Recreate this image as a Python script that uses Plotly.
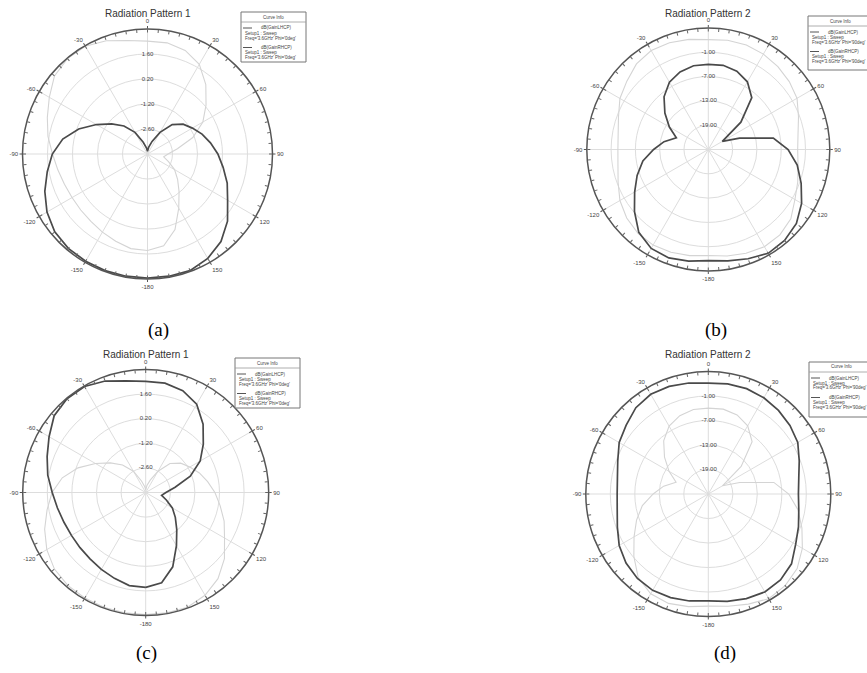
import plotly.graph_objects as go

W, H = 867, 673

# ---------------- data ----------------
theta_deg = list(range(-180, 181, 10))

# Phi = 0deg cut (Radiation Pattern 1), dB
phi0_lhcp = [2.95, 2.95, 2.95, 2.93, 2.9, 2.78, 2.5, 2.12, 1.7, 1.33, 0.82, 0.1, -0.7,
             -1.38, -1.95, -2.6, -3.3, -3.65, -3.85, -3.6, -3.25, -2.6, -1.85, -1.4,
             -1.1, -0.75, -0.42, -0.06, 0.3, 0.75, 1.18, 1.85, 2.4, 2.75, 2.95, 2.95, 2.95]
phi0_rhcp = [1.40, 1.38, 1.2, 1.05, 0.93, 0.88, 0.88, 0.95, 1.1, 1.32, 1.66, 1.97, 2.35,
             2.8, 2.97, 2.97, 2.75, 2.45, 2.32, 2.32, 2.17, 1.8, 1.08, 0.28, -0.42,
             -1.3, -2.3, -2.85, -3.08, -2.75, -2.25, -1.8, -1.25, -0.5, 0.5, 1.22, 1.40]

# Phi = 90deg cut (Radiation Pattern 2), dB
phi90_lhcp = [2.45, 3.0, 3.5, 3.2, 1.7, -1.2, -4.0, -6.3, -8.6, -11.5, -13.9, -16.6, -13.9,
              -11.0, -8.0, -5.8, -4.6, -4.0, -3.98, -3.9, -4.4, -5.7, -8.3, -14.5, -21.0,
              -16.8, -8.7, -5.3, -2.7, -0.6, 1.6, 3.4, 4.3, 4.6, 3.7, 2.9, 2.45]
phi90_rhcp = [1.16, 1.6, 2.0, 2.25, 2.0, 1.3, 0.2, -1.3, -2.35, -2.68, -2.4, -1.4, 0.2,
              1.25, 2.6, 3.2, 3.05, 2.6, 2.14, 2.4, 2.45, 2.2, 1.73, 1.1, 0.3,
              -1.3, -2.5, -2.93, -2.5, -1.5, -0.3, 1.6, 2.5, 2.7, 2.25, 1.7, 1.16]

# angular ticks (positions 0..330 deg, labelled in the -180..150 convention)
angle_tickvals = [0, 30, 60, 90, 120, 150, 180, 210, 240, 270, 300, 330]
angle_ticktext = ["0", "30", "60", "90", "120", "150", "-180", "-150", "-120", "-90", "-60", "-30"]

radial_range_1 = [-4.0, 3.0]
radial_ticks_1 = [-2.6, -1.2, 0.2, 1.6]
radial_range_2 = [-25.0, 5.0]
radial_ticks_2 = [-19.0, -13.0, -7.0, -1.0]

titles = ["Radiation Pattern 1", "Radiation Pattern 2", "Radiation Pattern 1", "Radiation Pattern 2"]
captions = ["(a)", "(b)", "(c)", "(d)"]
legend_names = ["dB(GainLHCP)", "dB(GainRHCP)"]
legend_setup = "Setup1 : Sweep"
legend_freq = ["Freq='3.6GHz' Phi='0deg'", "Freq='3.6GHz' Phi='90deg'"]

# ---------------- layout geometry (pixels) ----------------
panels = [
    dict(cx=147.5, cy=154.0, R=125.0, rng=radial_range_1, ticks=radial_ticks_1,
         dark=phi0_lhcp, light=phi0_rhcp, freq=0, box=(241, 12, 306, 62),
         title_y=13, cap=(158, 330)),
    dict(cx=708.3, cy=149.5, R=121.5, rng=radial_range_2, ticks=radial_ticks_2,
         dark=phi90_lhcp, light=phi90_rhcp, freq=1, box=(808, 16, 880, 70),
         title_y=13, cap=(716, 330)),
    dict(cx=145.7, cy=492.5, R=123.0, rng=radial_range_1, ticks=radial_ticks_1,
         dark=phi0_rhcp, light=phi0_lhcp, freq=0, box=(235, 358, 300, 408),
         title_y=354, cap=(146, 653)),
    dict(cx=708.3, cy=494.0, R=122.5, rng=radial_range_2, ticks=radial_ticks_2,
         dark=phi90_rhcp, light=phi90_lhcp, freq=1, box=(809, 362, 880, 417),
         title_y=354, cap=(725, 653)),
]

def px(x):
    return x / W

def py(y):
    return 1 - y / H

DARK = "#4a4a4a"
LIGHT = "#d4d4d4"
GRID = "#dddddd"
TXT = "#444444"
FONT = "Liberation Sans, Arial, sans-serif"

fig = go.Figure()
layout = {}
annotations = []
shapes = []
n = len(panels)

for i, p in enumerate(panels):
    main = f"polar{i + 1}"
    minor = f"polar{i + 1 + n}"
    major = f"polar{i + 1 + 2 * n}"
    dom = dict(x=[px(p["cx"] - p["R"]), px(p["cx"] + p["R"])],
               y=[py(p["cy"] + p["R"]), py(p["cy"] - p["R"])])
    # faint curve
    fig.add_trace(go.Scatterpolar(r=p["light"], theta=theta_deg, mode="lines",
                                  line=dict(color=LIGHT, width=1.1),
                                  subplot=main, showlegend=False, hoverinfo="skip"))
    # dark curve
    fig.add_trace(go.Scatterpolar(r=p["dark"], theta=theta_deg, mode="lines",
                                  line=dict(color=DARK, width=1.7),
                                  subplot=main, showlegend=False))
    # radial tick labels along the 0 deg spoke
    fig.add_trace(go.Scatterpolar(r=p["ticks"], theta=[0] * len(p["ticks"]), mode="text",
                                  text=[f"{v:.2f}" for v in p["ticks"]],
                                  textposition="middle center",
                                  textfont=dict(size=6, color=TXT, family=FONT),
                                  subplot=main, showlegend=False, hoverinfo="skip"))
    # overlay subplots for minor / major ticks
    for sp in (minor, major):
        fig.add_trace(go.Scatterpolar(r=[], theta=[], mode="lines", subplot=sp,
                                      showlegend=False, hoverinfo="skip"))

    layout[main] = dict(
        domain=dom, bgcolor="white",
        radialaxis=dict(range=p["rng"], tickvals=p["ticks"], showticklabels=False,
                        ticks="", showline=False, gridcolor=GRID, gridwidth=1),
        angularaxis=dict(rotation=90, direction="clockwise", tickmode="array",
                         tickvals=angle_tickvals, ticktext=angle_ticktext,
                         showgrid=True, gridcolor=GRID, gridwidth=1,
                         showline=True, linecolor="#555555", linewidth=1.5,
                         ticks="outside", ticklen=2.5, tickcolor="rgba(0,0,0,0)", tickwidth=1,
                         tickfont=dict(size=6, color=TXT, family=FONT)),
    )
    layout[minor] = dict(
        domain=dom, bgcolor="rgba(0,0,0,0)",
        radialaxis=dict(visible=False, range=p["rng"]),
        angularaxis=dict(rotation=90, direction="clockwise", tickmode="array",
                         tickvals=list(range(0, 360, 5)), showticklabels=False,
                         showgrid=False, showline=False, ticks="inside", ticklen=3,
                         tickcolor="#666666", tickwidth=1),
    )
    layout[major] = dict(
        domain=dom, bgcolor="rgba(0,0,0,0)",
        radialaxis=dict(visible=False, range=p["rng"]),
        angularaxis=dict(rotation=90, direction="clockwise", tickmode="array",
                         tickvals=angle_tickvals, showticklabels=False,
                         showgrid=False, showline=False, ticks="outside", ticklen=2.5,
                         tickcolor="#555555", tickwidth=1),
    )

    # title
    annotations.append(dict(x=px(p["cx"]), y=py(p["title_y"]), xref="paper", yref="paper",
                            text=titles[i], showarrow=False, xanchor="center", yanchor="middle",
                            font=dict(size=10, color="#333333", family=FONT)))
    # caption
    annotations.append(dict(x=px(p["cap"][0]), y=py(p["cap"][1]), xref="paper", yref="paper",
                            text=captions[i], showarrow=False, xanchor="center", yanchor="middle",
                            font=dict(size=19, color="black",
                                      family="Liberation Serif, Times New Roman, serif")))
    # "Curve Info" box
    x0, y0, x1, y1 = p["box"]
    shapes.append(dict(type="rect", xref="paper", yref="paper",
                       x0=px(x0), x1=px(x1), y0=py(y1), y1=py(y0),
                       line=dict(color="#777777", width=1), fillcolor="white"))
    shapes.append(dict(type="line", xref="paper", yref="paper",
                       x0=px(x0), x1=px(x1), y0=py(y0 + 10), y1=py(y0 + 10),
                       line=dict(color="#999999", width=0.8)))
    annotations.append(dict(x=px(x0 + 32.5), y=py(y0 + 5), xref="paper", yref="paper",
                            text="Curve Info", showarrow=False, xanchor="center", yanchor="middle",
                            font=dict(size=4.5, color=TXT, family=FONT)))
    for k in range(2):
        base = y0 + 16 + k * 19.5
        shapes.append(dict(type="line", xref="paper", yref="paper",
                           x0=px(x0 + 2), x1=px(x0 + 11), y0=py(base), y1=py(base),
                           line=dict(color="#555555", width=1)))
        annotations.append(dict(x=px(x0 + 18), y=py(base), xref="paper", yref="paper",
                                text=legend_names[k], showarrow=False, xanchor="left",
                                yanchor="middle", font=dict(size=4.5, color=TXT, family=FONT)))
        annotations.append(dict(x=px(x0 + 1.5), y=py(base + 5.3), xref="paper", yref="paper",
                                text=legend_setup, showarrow=False, xanchor="left",
                                yanchor="middle", font=dict(size=4.5, color=TXT, family=FONT)))
        annotations.append(dict(x=px(x0 + 1.5), y=py(base + 10), xref="paper", yref="paper",
                                text=legend_freq[p["freq"]], showarrow=False, xanchor="left",
                                yanchor="middle", font=dict(size=4.5, color=TXT, family=FONT)))

fig.update_layout(
    width=W, height=H,
    margin=dict(l=0, r=0, t=0, b=0),
    paper_bgcolor="white", plot_bgcolor="white",
    showlegend=False,
    annotations=annotations, shapes=shapes,
    **layout,
)

fig.write_html("out.html")
